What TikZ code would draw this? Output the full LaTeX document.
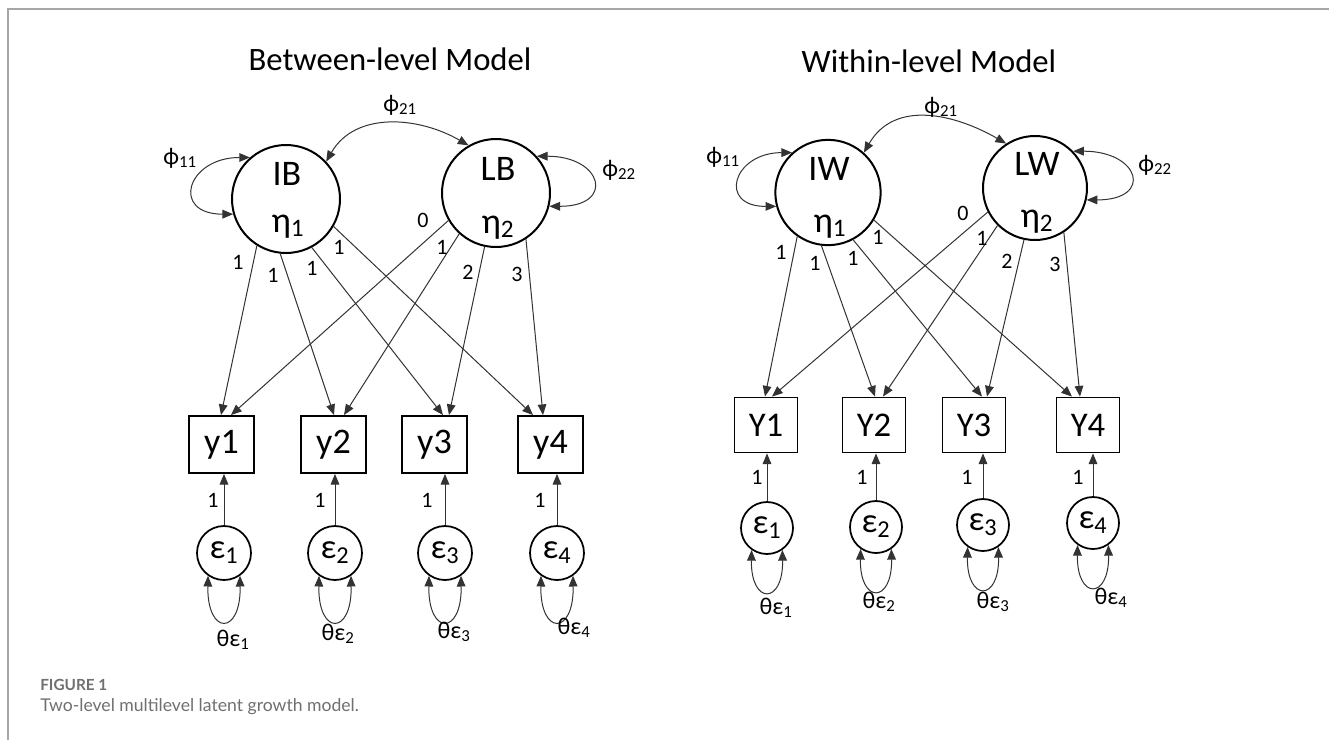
\documentclass[tikz,border=0pt]{standalone}
\usepackage{fontspec}
\setmainfont{Carlito}
\newfontfamily\capfont{Lato}
\usetikzlibrary{arrows.meta,calc}
\definecolor{capgray}{HTML}{707070}
\definecolor{framegray}{HTML}{A6A6A6}
\definecolor{linegray}{HTML}{333333}
\begin{document}
\begin{tikzpicture}[x=0.75pt,y=0.75pt,
  latent/.style={circle,draw,line width=1.5pt,minimum size=#1,inner sep=0pt},
  latent/.default=81pt,
  errc/.style={circle,draw,line width=1.3pt,minimum size=#1,inner sep=0pt,font=\fontsize{26}{26}\selectfont},
  errc/.default=40.5pt,
  obsbox/.style={rectangle,draw,line width=1.4pt,minimum width=48.75pt,minimum height=42.75pt,inner sep=0pt,font=\fontsize{27}{27}\selectfont},
  obsboxR/.style={obsbox,minimum width=47.25pt,minimum height=41.25pt,font=\fontsize{26}{26}\selectfont},
  big/.style={font=\fontsize{27}{27}\selectfont,inner sep=0pt,anchor=base},
  load/.style={draw=linegray,line width=0.75pt,-{Triangle[length=8pt,width=6.5pt]}},
  cov/.style={draw=linegray,line width=0.75pt,{Triangle[length=8pt,width=6.5pt]}-{Triangle[length=8pt,width=6.5pt]}},
  lbl/.style={font=\fontsize{16.5}{16.5}\selectfont,inner sep=0pt},
  phil/.style={font=\fontsize{18}{18}\selectfont,inner sep=0pt},
  ttl/.style={font=\fontsize{24.5}{24.5}\selectfont,inner sep=0pt,anchor=base}
]
\useasboundingbox (0,0) rectangle (1329,-740);
\fill[white] (0,0) rectangle (1329,-740);
% frame
\draw[framegray,line width=1.5pt] (8,-740) -- (8,-9) -- (1329,-9);

% ---------------- Between-level model ----------------
\node[ttl] (tB) at (390,-70) {Between-level Model};

\node[latent] (IB) at (286,-199) {};
\node[latent] (LB) at (496,-193) {};
\node[big] (IBa) at (287,-185) {IB};
\node[big] (IBb) at (288,-232) {η\textsubscript{1}};
\node[big] (LBa) at (498,-180) {LB};
\node[big] (LBb) at (498,-233) {η\textsubscript{2}};

\node[obsbox] (y1) at (221.5,-444.5) {y1};
\node[obsbox] (y2) at (333.5,-444.5) {y2};
\node[obsbox] (y3) at (434.5,-444.5) {y3};
\node[obsbox] (y4) at (550.5,-444.5) {y4};

\node[errc] (e1) at (224,-553) {ε\textsubscript{1}};
\node[errc] (e2) at (335,-553) {ε\textsubscript{2}};
\node[errc] (e3) at (445,-553) {ε\textsubscript{3}};
\node[errc] (e4) at (557,-553) {ε\textsubscript{4}};

\draw[load] (IB.238) -- ($(y1.north)+(-0.5,0)$);
\draw[load] (IB.264) -- ($(y2.north)+(0.5,0)$);
\draw[load] (IB.298) -- ($(y3.north)+(8.5,0)$);
\draw[load] (IB.330) -- ($(y4.north)+(-17.5,0)$);
\draw[load] (LB.210) -- ($(y1.north)+(9.5,0)$);
\draw[load] (LB.228) -- ($(y2.north)+(10.5,0)$);
\draw[load] (LB.258) -- ($(y3.north)+(14.5,0)$);
\draw[load] (LB.303) -- ($(y4.north)+(-7.5,0)$);

\node[lbl] (lb1) at (238,-262) {1};
\node[lbl] (lb2) at (273,-275) {1};
\node[lbl] (lb3) at (312,-268) {1};
\node[lbl] (lb4) at (339,-247) {1};
\node[lbl] (lb5) at (423,-220) {0};
\node[lbl] (lb6) at (442,-247) {1};
\node[lbl] (lb7) at (468,-272) {2};
\node[lbl] (lb8) at (517,-274) {3};

\draw[cov] (IB.131) .. controls +(180:63) and +(180:63) .. (IB.196);
\draw[cov] (LB.42) .. controls +(0:66) and +(0:66) .. (LB.346);
\draw[cov] (IB.43) .. controls +(60:58) and +(150:58) .. (LB.120);
\node[phil] (p11) at (180,-158) {ϕ\textsubscript{11}};
\node[phil] (p22) at (619,-170) {ϕ\textsubscript{22}};
\node[phil] (p21) at (400,-105) {ϕ\textsubscript{21}};

\foreach \i/\lx in {1/213,2/320,3/427,4/540}{
  \draw[load] (e\i.north) -- (e\i.north |- y\i.south);
  \node[lbl] at (\lx,-500) {1};
  \draw[cov] (e\i.235) .. controls +(269:60) and +(271:60) .. (e\i.305);
}
\node[phil] (t1) at (233,-640) {θε\textsubscript{1}};
\node[phil] (t2) at (338,-634) {θε\textsubscript{2}};
\node[phil] (t3) at (454,-632) {θε\textsubscript{3}};
\node[phil] (t4) at (574,-628) {θε\textsubscript{4}};

% ---------------- Within-level model ----------------
\node[ttl] (tW) at (929,-72) {Within-level Model};

\node[latent=79pt] (IW) at (828,-192.5) {};
\node[latent=78pt] (LW) at (1035,-188) {};
\node[big] (IWa) at (829,-180) {IW};
\node[big] (IWb) at (830,-232) {η\textsubscript{1}};
\node[big] (LWa) at (1037,-175) {LW};
\node[big] (LWb) at (1037,-227) {η\textsubscript{2}};

\node[obsboxR] (Y1) at (766,-425) {Y1};
\node[obsboxR] (Y2) at (874,-425) {Y2};
\node[obsboxR] (Y3) at (974,-425) {Y3};
\node[obsboxR] (Y4) at (1088,-425) {Y4};

\node[errc=39pt] (f1) at (767,-528) {ε\textsubscript{1}};
\node[errc=39pt] (f2) at (876,-527) {ε\textsubscript{2}};
\node[errc=39pt] (f3) at (983,-525) {ε\textsubscript{3}};
\node[errc=39pt] (f4) at (1093,-523) {ε\textsubscript{4}};

\draw[load] (IW.235) -- ($(Y1.north)+(-1,0)$);
\draw[load] (IW.263) -- ($(Y2.north)+(1,0)$);
\draw[load] (IW.298) -- ($(Y3.north)+(8,0)$);
\draw[load] (IW.329) -- ($(Y4.north)+(-16,0)$);
\draw[load] (LW.207) -- ($(Y1.north)+(6,0)$);
\draw[load] (LW.225) -- ($(Y2.north)+(9,0)$);
\draw[load] (LW.258) -- ($(Y3.north)+(13,0)$);
\draw[load] (LW.303) -- ($(Y4.north)+(-8,0)$);

\node[lbl] (lw1) at (781,-252) {1};
\node[lbl] (lw2) at (815,-263) {1};
\node[lbl] (lw3) at (853,-258) {1};
\node[lbl] (lw4) at (878,-237) {1};
\node[lbl] (lw5) at (963,-213) {0};
\node[lbl] (lw6) at (982,-238) {1};
\node[lbl] (lw7) at (1007,-261) {2};
\node[lbl] (lw8) at (1055,-264) {3};

\draw[cov] (IW.132) .. controls +(180:59) and +(180:59) .. (IW.195);
\draw[cov] (LW.44) .. controls +(0:67) and +(0:67) .. (LW.347);
\draw[cov] (IW.48) .. controls +(60:62) and +(150:58) .. (LW.123);
\node[phil] (q11) at (723,-157) {ϕ\textsubscript{11}};
\node[phil] (q22) at (1155,-165) {ϕ\textsubscript{22}};
\node[phil] (q21) at (941,-107) {ϕ\textsubscript{21}};

\foreach \i/\lx in {1/757,2/862,3/967,4/1078}{
  \draw[load] (f\i.north) -- (f\i.north |- Y\i.south);
  \node[lbl] at (\lx,-477) {1};
  \draw[cov] (f\i.235) .. controls +(269:55) and +(271:55) .. (f\i.305);
}
\node[phil] (u1) at (776,-608) {θε\textsubscript{1}};
\node[phil] (u2) at (879,-602) {θε\textsubscript{2}};
\node[phil] (u3) at (993,-602) {θε\textsubscript{3}};
\node[phil] (u4) at (1111,-598) {θε\textsubscript{4}};

% ---------------- caption ----------------
\node[anchor=west,inner sep=0pt,text=capgray,font=\capfont\bfseries\fontsize{11.5}{11.5}\selectfont] (fig) at (40,-685) {FIGURE 1};
\node[anchor=west,inner sep=0pt,text=capgray,font=\capfont\fontsize{13.2}{13.2}\selectfont] (cap) at (40,-707) {Two-level multilevel latent growth model.};
\end{tikzpicture}
\end{document}
